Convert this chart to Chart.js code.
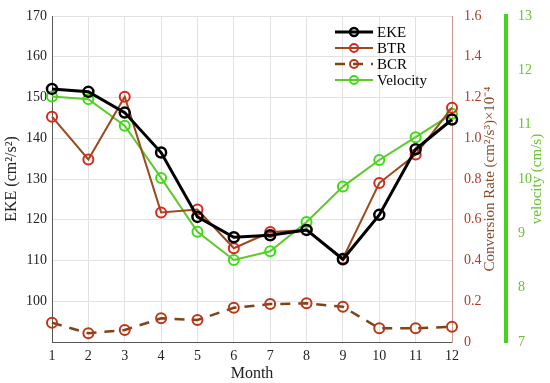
<!DOCTYPE html>
<html>
<head>
<meta charset="UTF-8">
<title>EKE chart</title>
<script src="https://cdn.jsdelivr.net/npm/chart.js@4.4.0/dist/chart.umd.min.js"></script>
<style>
  html, body { margin: 0; padding: 0; background: #fff; }
  #wrap { width: 550px; height: 383px; }
</style>
</head>
<body>
<div id="wrap"><canvas id="myChart"></canvas></div>

<script>
// data
const months = ['1', '2', '3', '4', '5', '6', '7', '8', '9', '10', '11', '12'];
const ekeValues = [152.1, 151.4, 146.3, 136.5, 120.7, 115.7, 116.2, 117.5, 110.3, 121.2, 137.3, 144.6]; // left axis
const btrValues = [1.106, 0.896, 1.204, 0.636, 0.65, 0.46, 0.54, 0.55, 0.41, 0.78, 0.92, 1.15];   // x10^-4
const bcrValues = [0.095, 0.043, 0.059, 0.116, 0.108, 0.168, 0.186, 0.19, 0.173, 0.067, 0.067, 0.075];
const velValues = [11.52, 11.47, 10.98, 10.02, 9.03, 8.51, 8.67, 9.21, 9.86, 10.35, 10.77, 11.2];  // cm/s

const SERIF = "'Liberation Serif', 'Times New Roman', serif";
const rateColor = '#b23a2a';
const velColor = '#66c22e';

// legend drawn inside the plot + right-hand titles (read bottom to top like the original)
const extras = {
  id: 'extras',
  afterDraw(chart) {
    const ctx = chart.ctx;
    const area = chart.chartArea;
    ctx.save();
    // legend
    const x0 = area.right - 117;
    let y = area.top + 16;
    chart.data.datasets.forEach(ds => {
      ctx.setLineDash(ds.borderDash || []);
      ctx.strokeStyle = ds.borderColor;
      ctx.lineWidth = ds.borderWidth;
      ctx.beginPath();
      ctx.moveTo(x0, y);
      ctx.lineTo(x0 + 38, y);
      ctx.stroke();
      ctx.setLineDash([]);
      ctx.strokeStyle = ds.pointBorderColor;
      ctx.lineWidth = ds.pointBorderWidth;
      ctx.beginPath();
      ctx.arc(x0 + 19, y, ds.pointRadius - 1, 0, Math.PI * 2);
      ctx.stroke();
      ctx.fillStyle = '#000';
      ctx.font = '15px ' + SERIF;
      ctx.textBaseline = 'middle';
      ctx.fillText(ds.label, x0 + 42, y + 1);
      y += 16;
    });
    // right titles
    const midY = (area.top + area.bottom) / 2;
    const titles = [
      { x: chart.scales.y1.left + 38, text: 'Conversion Rate (cm²/s³)×10⁻⁴', color: '#8a4a2c' },
      { x: chart.scales.y2.right - 13, text: 'velocity (cm/s)', color: velColor }
    ];
    titles.forEach(t => {
      ctx.save();
      ctx.translate(t.x, midY);
      ctx.rotate(-Math.PI / 2);
      ctx.font = '15px ' + SERIF;
      ctx.fillStyle = t.color;
      ctx.textAlign = 'center';
      ctx.textBaseline = 'middle';
      ctx.fillText(t.text, 0, 0);
      ctx.restore();
    });
    ctx.restore();
  }
};

new Chart('myChart', {
  type: 'line',
  data: {
    labels: months,
    datasets: [
      {
        label: 'EKE', data: ekeValues, yAxisID: 'y',
        borderColor: '#000', borderWidth: 3,
        pointBorderColor: '#000', pointBackgroundColor: 'rgba(255,255,255,0)',
        pointRadius: 5, pointBorderWidth: 2.5
      },
      {
        label: 'BTR', data: btrValues, yAxisID: 'y1',
        borderColor: '#9a4a1c', borderWidth: 2,
        pointBorderColor: '#d8281c', pointBackgroundColor: 'rgba(255,255,255,0)',
        pointRadius: 5, pointBorderWidth: 2
      },
      {
        label: 'BCR', data: bcrValues, yAxisID: 'y1',
        borderColor: '#7e4416', borderWidth: 2.5, borderDash: [10, 8],
        pointBorderColor: '#b83818', pointBackgroundColor: 'rgba(255,255,255,0)',
        pointRadius: 5, pointBorderWidth: 2
      },
      {
        label: 'Velocity', data: velValues, yAxisID: 'y2',
        borderColor: '#5fc82a', borderWidth: 2,
        pointBorderColor: '#38e010', pointBackgroundColor: 'rgba(255,255,255,0)',
        pointRadius: 5, pointBorderWidth: 2
      }
    ]
  },
  options: {
    responsive: true,
    maintainAspectRatio: false,
    animation: false,
    layout: { padding: { top: 16, right: 0, left: 0, bottom: 0 } },
    plugins: { legend: { display: false }, tooltip: { enabled: false } },
    elements: { line: { tension: 0 } },
    scales: {
      x: {
        offset: false,
        grid: { color: '#e2e2e2', drawTicks: false },
        border: { color: '#555', width: 1 },
        ticks: { color: '#222', font: { family: SERIF, size: 14 }, padding: 6, maxRotation: 0 },
        title: { display: true, text: 'Month', color: '#222', font: { family: SERIF, size: 16 }, padding: 0 },
        afterFit(s) { s.height = 41; }
      },
      y: {
        position: 'left', min: 90, max: 170,
        grid: { color: '#e2e2e2', drawTicks: false },
        border: { color: '#555', width: 1 },
        ticks: {
          stepSize: 10, color: '#222', font: { family: SERIF, size: 14 }, padding: 5,
          callback: v => (v === 90 ? '' : v)
        },
        title: { display: true, text: 'EKE (cm²/s²)', color: '#222', font: { family: SERIF, size: 16 }, padding: 2 },
        afterFit(s) { s.width = 52; }
      },
      y1: {
        position: 'right', min: 0, max: 1.6,
        grid: { display: false },
        border: { color: '#c89a94', width: 1 },
        ticks: { stepSize: 0.2, color: rateColor, font: { family: SERIF, size: 14 }, padding: 4 },
        afterFit(s) { s.width = 54; }
      },
      y2: {
        position: 'right', min: 7, max: 13,
        grid: { display: false },
        border: { color: '#44d41c', width: 4 },
        ticks: { stepSize: 1, color: velColor, font: { family: SERIF, size: 14 }, padding: 4 },
        afterFit(s) { s.width = 44; }
      }
    }
  },
  plugins: [extras]
});
</script>
</body>
</html>
